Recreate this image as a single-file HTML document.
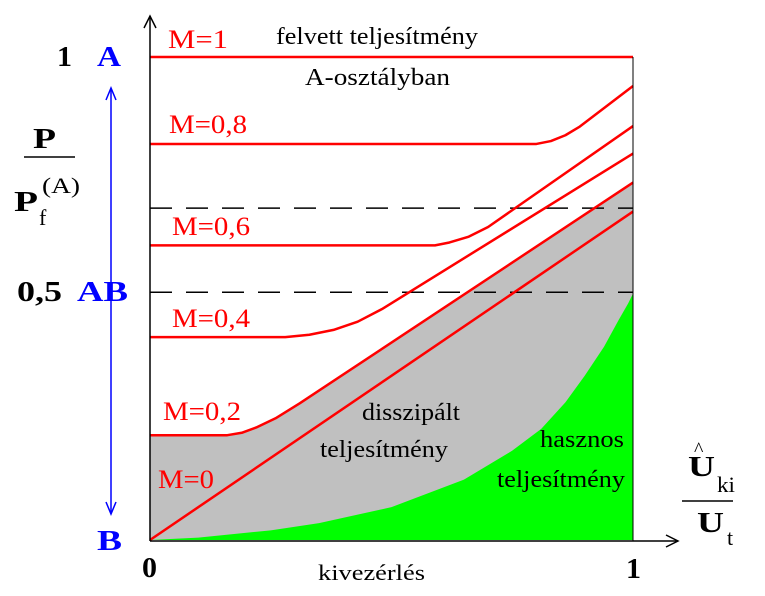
<!DOCTYPE html>
<html><head><meta charset="utf-8"><style>
body{margin:0;background:#fff;width:765px;height:591px;overflow:hidden}
svg text{font-family:"Liberation Serif",serif}
</style></head><body>
<svg id="c" width="765" height="591" viewBox="0 0 765 591">
<g id="areas"></g>
<g id="grid"></g>
<g id="series"></g>
<g stroke="#000" fill="none" stroke-width="1.5">
  <line x1="150" y1="541" x2="150" y2="16"/>
  <polyline points="144,28 150,16 156,28"/>
  <line x1="150" y1="541" x2="678" y2="541"/>
  <polyline points="666,535 678,541 666,547"/>
  <line x1="633" y1="57" x2="633" y2="541" stroke-width="1"/>
</g>
<g stroke="#00f" fill="none" stroke-width="1.5">
  <line x1="111" y1="90" x2="111" y2="512"/>
  <polyline points="106,100 111,88 116,100"/>
  <polyline points="106,502 111,514 116,502"/>
</g>
<g font-weight="bold" font-size="28" lengthAdjust="spacingAndGlyphs">
  <text x="57" y="66" textLength="15" lengthAdjust="spacingAndGlyphs">1</text>
  <text x="97" y="66" textLength="24" lengthAdjust="spacingAndGlyphs" fill="#00f">A</text>
  <text x="17" y="301" textLength="45" lengthAdjust="spacingAndGlyphs">0,5</text>
  <text x="77" y="301" textLength="51" lengthAdjust="spacingAndGlyphs" fill="#00f">AB</text>
  <text x="97" y="550" textLength="25" lengthAdjust="spacingAndGlyphs" fill="#00f">B</text>
  <text x="142" y="577" textLength="15" lengthAdjust="spacingAndGlyphs">0</text>
  <text x="626" y="578" textLength="15" lengthAdjust="spacingAndGlyphs">1</text>
</g>
<g>
  <text x="33" y="148" font-size="28" font-weight="bold" textLength="23" lengthAdjust="spacingAndGlyphs">P</text>
  <line x1="24" y1="157" x2="75" y2="157" stroke="#000" stroke-width="1.5"/>
  <text x="14" y="211" font-size="28" font-weight="bold" textLength="24" lengthAdjust="spacingAndGlyphs">P</text>
  <text x="39" y="225" font-size="22">f</text>
  <text x="42" y="193" font-size="22" textLength="38" lengthAdjust="spacingAndGlyphs">(A)</text>
</g>
<g>
  <text x="688" y="476" font-size="28" font-weight="bold" textLength="27" lengthAdjust="spacingAndGlyphs">U</text>
  <text x="694" y="456" font-size="20">^</text>
  <text x="717" y="492" font-size="22" textLength="18" lengthAdjust="spacingAndGlyphs">ki</text>
  <line x1="682" y1="501" x2="733" y2="501" stroke="#000" stroke-width="1.5"/>
  <text x="697" y="532" font-size="28" font-weight="bold" textLength="27" lengthAdjust="spacingAndGlyphs">U</text>
  <text x="727" y="545" font-size="22">t</text>
</g>
<text x="318" y="580" font-size="22" textLength="107" lengthAdjust="spacingAndGlyphs">kivezérlés</text>
<g font-size="24">
  <text x="276" y="44" textLength="202" lengthAdjust="spacingAndGlyphs">felvett teljesítmény</text>
  <text x="305" y="85" textLength="145" lengthAdjust="spacingAndGlyphs">A-osztályban</text>
  <text x="362" y="420" textLength="98" lengthAdjust="spacingAndGlyphs">disszipált</text>
  <text x="320" y="457" textLength="128" lengthAdjust="spacingAndGlyphs">teljesítmény</text>
  <text x="540" y="447" textLength="84" lengthAdjust="spacingAndGlyphs">hasznos</text>
  <text x="497" y="487" textLength="128" lengthAdjust="spacingAndGlyphs">teljesítmény</text>
</g>
<g font-size="26" fill="#f00">
  <text x="168" y="48" textLength="60" lengthAdjust="spacingAndGlyphs">M=1</text>
  <text x="169" y="133" textLength="78" lengthAdjust="spacingAndGlyphs">M=0,8</text>
  <text x="172" y="235" textLength="78" lengthAdjust="spacingAndGlyphs">M=0,6</text>
  <text x="172" y="327" textLength="78" lengthAdjust="spacingAndGlyphs">M=0,4</text>
  <text x="163" y="420" textLength="78" lengthAdjust="spacingAndGlyphs">M=0,2</text>
  <text x="158" y="488" textLength="56" lengthAdjust="spacingAndGlyphs">M=0</text>
</g>
</svg>
<script>
const mLevels = ["1","0.8","0.6","0.4","0.2","0"];
const seriesU = [
  [0, 1],
  [0, 0.80, 0.83, 0.86, 0.89, 1],
  [0, 0.59, 0.62, 0.66, 0.70, 1],
  [0, 0.28, 0.33, 0.38, 0.43, 0.48, 1],
  [0, 0.16, 0.19, 0.22, 0.26, 0.31, 1]
  ,[0, 1]
];
const seriesP = [
  [1, 1],
  [0.82, 0.82, 0.826, 0.838, 0.856, 0.94],
  [0.61, 0.61, 0.616, 0.628, 0.648, 0.857],
  [0.42, 0.42, 0.425, 0.435, 0.452, 0.478, 0.80],
  [0.217, 0.217, 0.222, 0.233, 0.252, 0.283, 0.74],
  [0, 0.68]
];
const usefulU = [0, 0.1, 0.25, 0.35, 0.5, 0.65, 0.75, 0.81, 0.86, 0.9, 0.94, 0.97, 0.99, 1];
const usefulP = [0, 0.005, 0.02, 0.035, 0.068, 0.125, 0.185, 0.23, 0.285, 0.34, 0.40, 0.455, 0.49, 0.51];
const dashedLevels = [0.513, 0.687];

const X0 = 150, X1 = 633, Y0 = 540, Y1 = 57;
const xs = u => X0 + u * (X1 - X0);
const ys = p => Y0 - p * (Y0 - Y1);
const NS = "http://www.w3.org/2000/svg";
function mk(tag, attrs, parent){
  const e = document.createElementNS(NS, tag);
  for (const k in attrs) e.setAttribute(k, attrs[k]);
  parent.appendChild(e); return e;
}
const areas = document.getElementById('areas');
const grid = document.getElementById('grid');
const series = document.getElementById('series');

const g2u = seriesU[4], g2p = seriesP[4];
let gp = g2u.map((u,i)=>xs(u)+','+ys(g2p[i])).join(' ') + ' ' + xs(1)+','+ys(0)+' '+xs(0)+','+ys(0);
const grey = mk('polygon', {points: gp, fill: '#c0c0c0'}, areas);



let pts = usefulU.map((u,i)=>xs(u)+','+ys(usefulP[i]));
const green = mk('polygon', {points: pts.join(' ')+' '+xs(1)+','+ys(0), fill: '#00ff00'}, areas);



dashedLevels.forEach((d,i)=>{
  const l = mk('line', {x1: xs(0), x2: xs(1), y1: ys(d), y2: ys(d), stroke: '#000', 'stroke-width': 1.5, 'stroke-dasharray': '22,14'}, grid);
  
  
});

seriesU.forEach((us,i)=>{
  const pl = mk('polyline', {points: us.map((u,j)=>xs(u)+','+ys(seriesP[i][j])).join(' '), fill: 'none', stroke: '#f00', 'stroke-width': 2.5, 'stroke-linejoin': 'round'}, series);
  
  
});
</script>
</body></html>
